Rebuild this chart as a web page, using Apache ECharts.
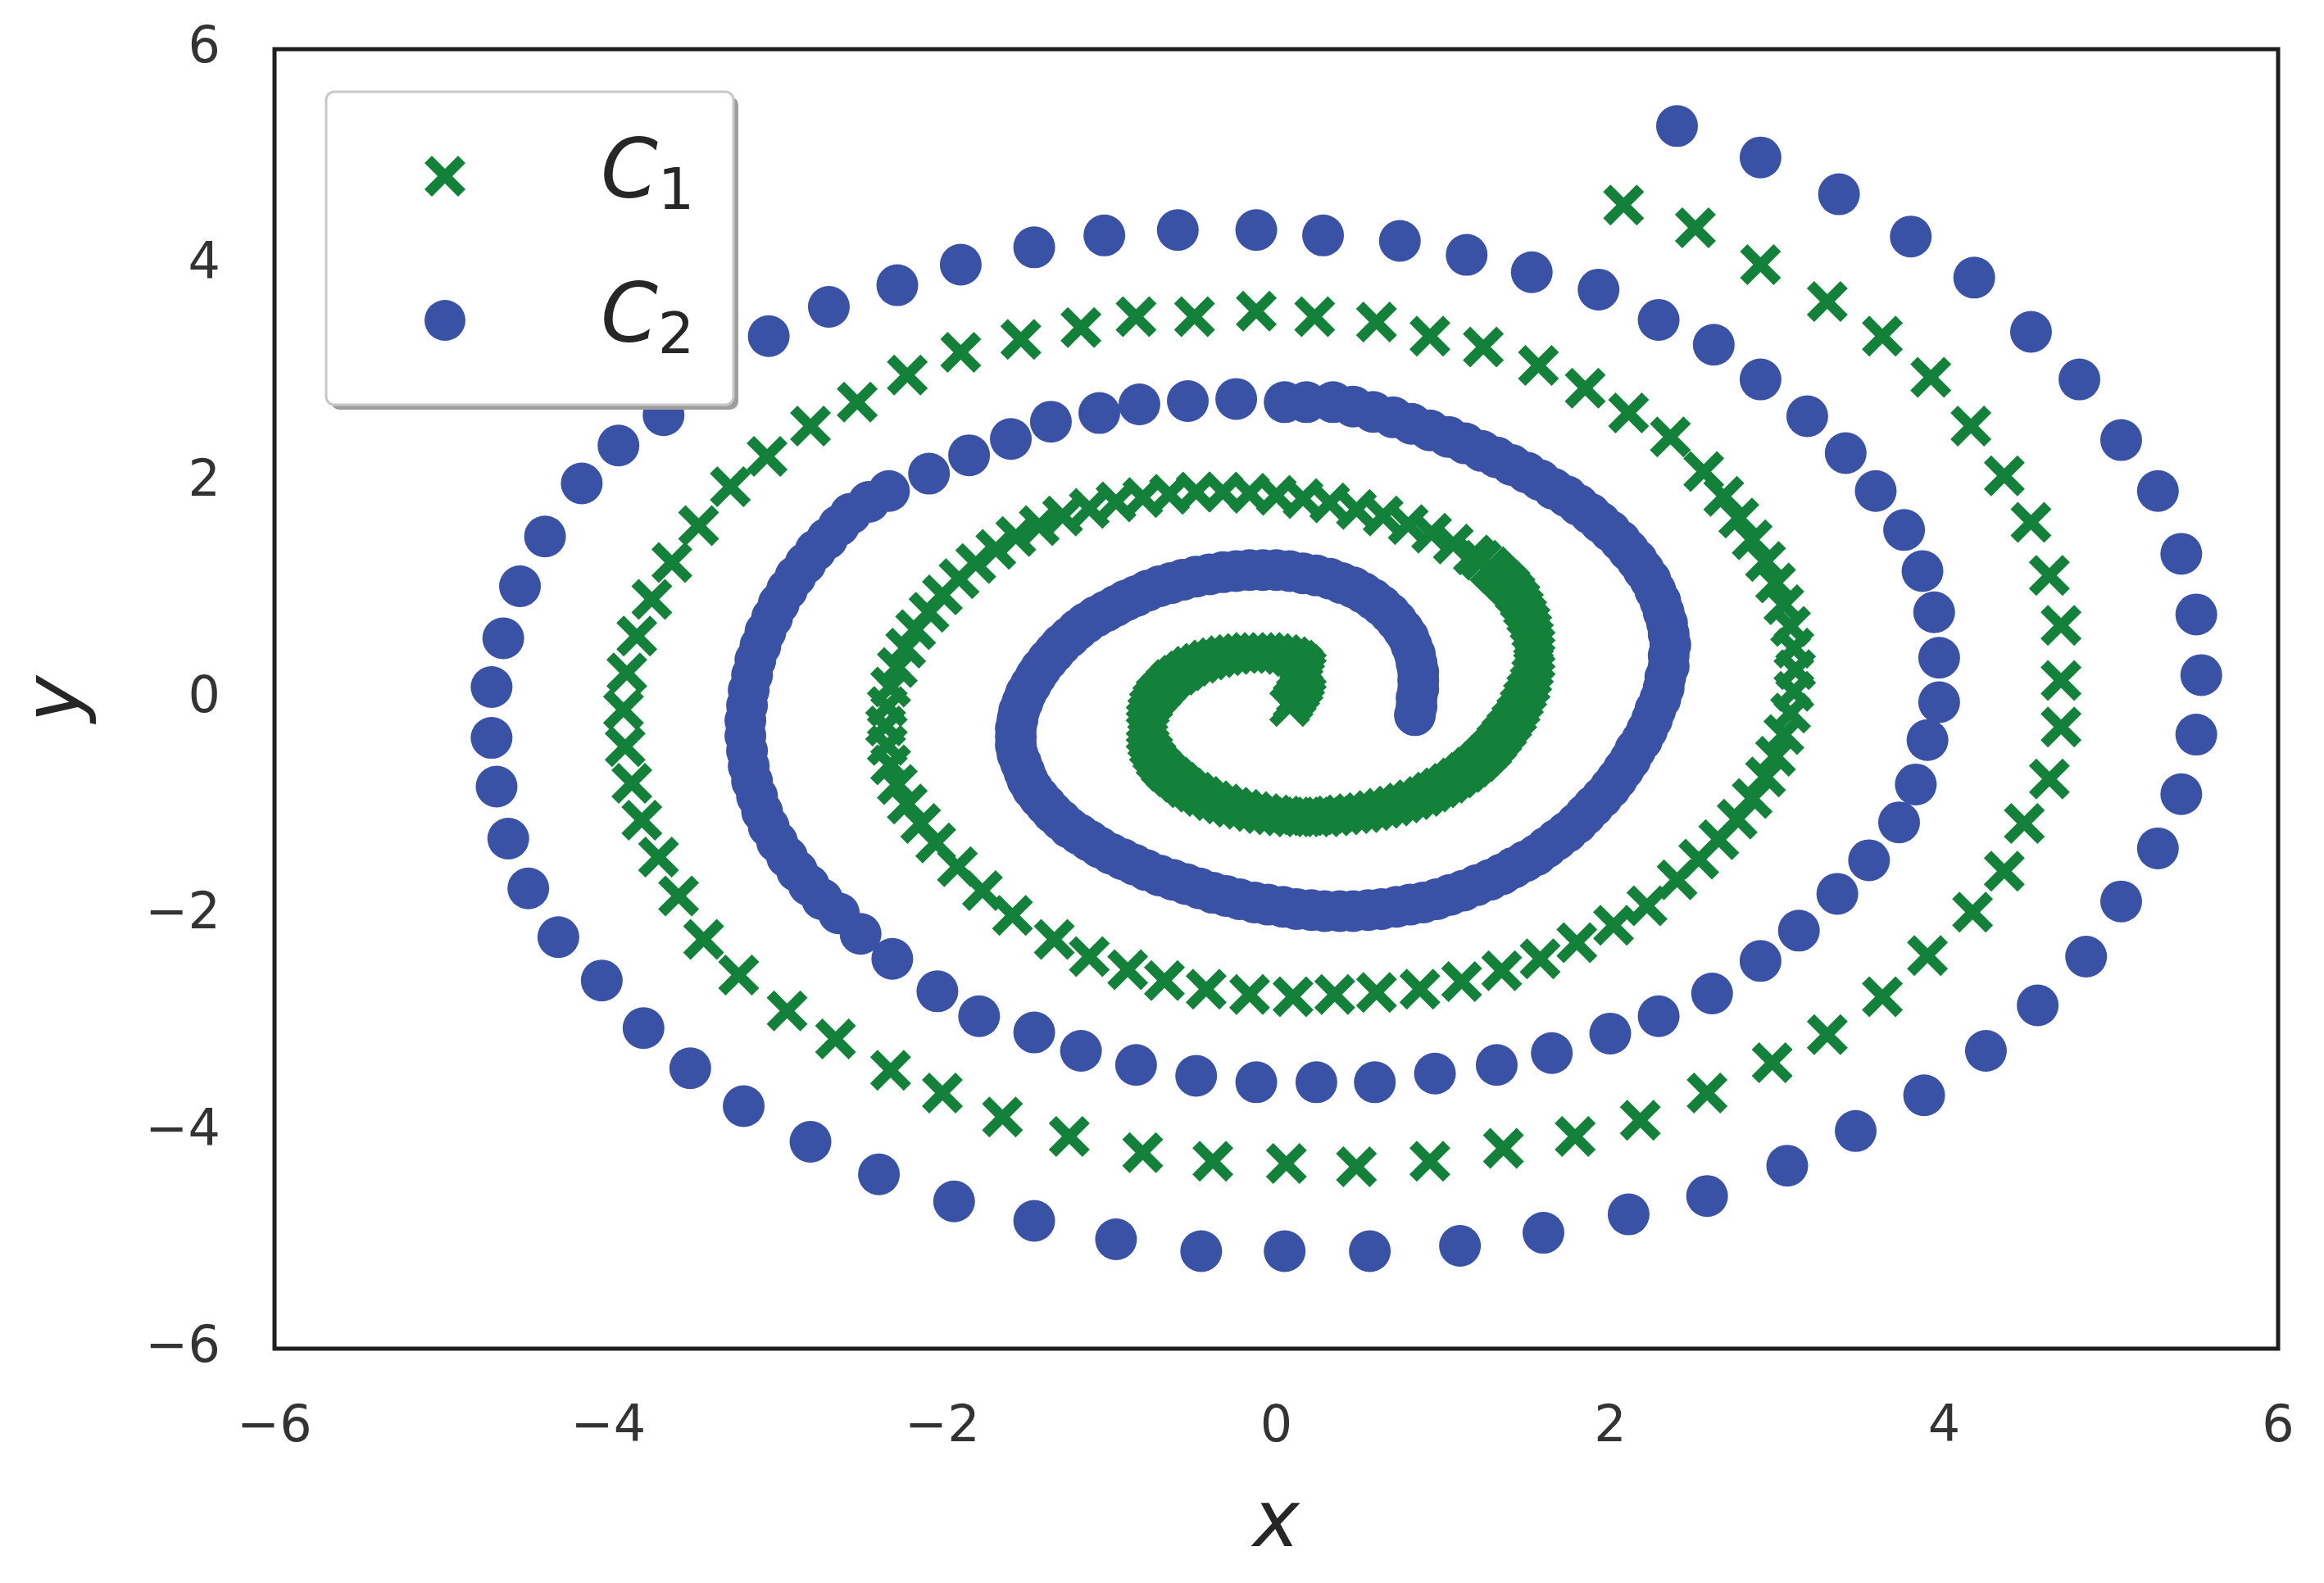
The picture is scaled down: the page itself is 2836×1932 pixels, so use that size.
<!DOCTYPE html>
<html><head><meta charset="utf-8">
<script src="https://cdn.jsdelivr.net/npm/echarts@6.0.0/dist/echarts.min.js"></script>
<style>html,body{margin:0;padding:0;background:#fff}#c{width:2836px;height:1932px}</style>
</head><body><div id="c"></div>
<script>
const seriesNames = ['C1', 'C2'];
const tickValues = [-6, -4, -2, 0, 2, 4, 6];

// C1 (green crosses), read along the spiral from its inner end outward
const c1Points = [
[0.08,-0.07],[0.10,-0.02],[0.12,0.03],[0.14,0.08],[0.16,0.13],[0.17,0.18],[0.18,0.23],[0.18,0.28],[0.16,0.32],[0.13,0.36],[0.09,0.39],[0.04,0.41],[-0.01,0.42],[-0.06,0.43],[-0.11,0.43],[-0.16,0.43],[-0.21,0.42],[-0.26,0.41],[-0.31,0.40],[-0.36,0.38],[-0.41,0.36],[-0.46,0.33],[-0.51,0.30],[-0.55,0.26],[-0.59,0.22],[-0.63,0.18],[-0.66,0.13],[-0.69,0.08],[-0.72,0.03],[-0.74,-0.02],[-0.76,-0.08],[-0.77,-0.14],[-0.78,-0.20],[-0.78,-0.26],[-0.78,-0.32],[-0.77,-0.38],[-0.76,-0.44],[-0.74,-0.50],[-0.72,-0.56],[-0.69,-0.62],[-0.66,-0.67],[-0.62,-0.72],[-0.58,-0.77],[-0.54,-0.82],[-0.49,-0.86],[-0.44,-0.90],[-0.38,-0.94],[-0.32,-0.97],[-0.26,-1.00],[-0.20,-1.02],[-0.14,-1.04],[-0.08,-1.06],[-0.02,-1.07],[0.04,-1.08],[0.10,-1.09],[0.16,-1.09],[0.22,-1.09],[0.28,-1.09],[0.34,-1.08],[0.40,-1.07],[0.46,-1.06],[0.52,-1.05],[0.58,-1.03],[0.64,-1.01],[0.70,-0.99],[0.76,-0.96],[0.82,-0.93],[0.88,-0.90],[0.93,-0.86],[0.98,-0.82],[1.03,-0.78],[1.08,-0.73],[1.13,-0.68],[1.17,-0.63],[1.21,-0.58],[1.25,-0.52],[1.29,-0.46],[1.32,-0.40],[1.35,-0.34],[1.38,-0.28],[1.41,-0.21],[1.44,-0.14],[1.46,-0.07],[1.48,0.00],[1.50,0.07],[1.52,0.14],[1.53,0.21],[1.54,0.28],[1.55,0.35],[1.55,0.42],[1.55,0.49],[1.54,0.56],[1.53,0.63],[1.52,0.70],[1.50,0.77],[1.48,0.84],[1.46,0.91],[1.43,0.98],[1.40,1.04],[1.36,1.10],[1.32,1.16],[1.28,1.22],[1.23,1.28],[1.18,1.33],[1.06,1.43],[0.93,1.53],[0.79,1.61],[0.64,1.69],[0.48,1.75],[0.32,1.81],[0.16,1.85],[0.00,1.88],[-0.16,1.90],[-0.32,1.91],[-0.48,1.91],[-0.64,1.89],[-0.80,1.86],[-0.96,1.82],[-1.12,1.76],[-1.28,1.69],[-1.42,1.60],[-1.56,1.50],[-1.68,1.38],[-1.80,1.25],[-1.90,1.11],[-2.00,0.96],[-2.08,0.80],[-2.16,0.64],[-2.22,0.47],[-2.27,0.29],[-2.31,0.11],[-2.33,-0.07],[-2.34,-0.25],[-2.33,-0.43],[-2.31,-0.61],[-2.27,-0.79],[-2.21,-0.97],[-2.13,-1.15],[-2.04,-1.33],[-1.91,-1.55],[-1.76,-1.77],[-1.58,-2.00],[-1.33,-2.22],[-1.12,-2.38],[-0.89,-2.50],[-0.67,-2.60],[-0.42,-2.68],[-0.16,-2.73],[0.10,-2.75],[0.35,-2.73],[0.60,-2.71],[0.86,-2.68],[1.11,-2.61],[1.35,-2.51],[1.58,-2.40],[1.80,-2.25],[2.02,-2.09],[2.22,-1.91],[2.40,-1.67],[2.53,-1.48],[2.65,-1.30],[2.76,-1.11],[2.85,-0.92],[2.93,-0.72],[2.99,-0.53],[3.04,-0.33],[3.08,-0.13],[3.10,0.07],[3.11,0.27],[3.10,0.47],[3.08,0.67],[3.04,0.87],[2.99,1.07],[2.93,1.27],[2.85,1.47],[2.77,1.67],[2.68,1.87],[2.56,2.10],[2.36,2.42],[2.11,2.64],[1.85,2.87],[1.57,3.08],[1.24,3.25],[0.92,3.35],[0.60,3.48],[0.23,3.53],[-0.12,3.58],[-0.49,3.53],[-0.84,3.53],[-1.17,3.43],[-1.53,3.32],[-1.89,3.20],[-2.21,2.99],[-2.51,2.74],[-2.79,2.52],[-3.05,2.24],[-3.27,1.96],[-3.46,1.60],[-3.62,1.26],[-3.74,0.92],[-3.83,0.58],[-3.89,0.24],[-3.91,-0.10],[-3.90,-0.44],[-3.86,-0.78],[-3.80,-1.12],[-3.70,-1.46],[-3.58,-1.82],[-3.43,-2.22],[-3.22,-2.55],[-2.93,-2.88],[-2.64,-3.14],[-2.31,-3.43],[-2.00,-3.64],[-1.64,-3.86],[-1.24,-4.04],[-0.80,-4.19],[-0.38,-4.27],[0.06,-4.29],[0.48,-4.32],[0.92,-4.27],[1.36,-4.15],[1.79,-4.04],[2.18,-3.89],[2.58,-3.64],[2.97,-3.36],[3.30,-3.10],[3.63,-2.75],[3.90,-2.37],[4.17,-1.97],[4.36,-1.59],[4.48,-1.15],[4.63,-0.74],[4.70,-0.26],[4.70,0.17],[4.70,0.68],[4.63,1.14],[4.52,1.63],[4.36,2.06],[4.16,2.52],[3.92,2.97],[3.63,3.35],[3.30,3.67],[2.90,4.01],[2.51,4.35],[2.08,4.56]
];

// C2 (blue dots), read along the spiral from its inner end outward
const c2Points = [
[0.83,-0.15],[0.84,-0.07],[0.84,0.01],[0.85,0.09],[0.85,0.17],[0.85,0.25],[0.84,0.33],[0.83,0.41],[0.81,0.49],[0.79,0.57],[0.76,0.64],[0.72,0.72],[0.68,0.79],[0.63,0.86],[0.58,0.92],[0.52,0.98],[0.46,1.03],[0.39,1.07],[0.32,1.11],[0.24,1.14],[0.16,1.16],[0.08,1.18],[0.00,1.19],[-0.08,1.19],[-0.16,1.19],[-0.24,1.18],[-0.32,1.17],[-0.40,1.15],[-0.48,1.13],[-0.56,1.10],[-0.63,1.07],[-0.70,1.04],[-0.77,1.00],[-0.84,0.95],[-0.90,0.91],[-0.96,0.86],[-1.02,0.81],[-1.08,0.76],[-1.14,0.70],[-1.19,0.64],[-1.24,0.57],[-1.29,0.50],[-1.33,0.43],[-1.37,0.36],[-1.41,0.28],[-1.44,0.21],[-1.47,0.13],[-1.50,0.05],[-1.52,-0.03],[-1.54,-0.11],[-1.55,-0.19],[-1.56,-0.27],[-1.56,-0.35],[-1.56,-0.43],[-1.55,-0.51],[-1.53,-0.59],[-1.51,-0.67],[-1.49,-0.75],[-1.46,-0.83],[-1.42,-0.91],[-1.38,-0.98],[-1.34,-1.05],[-1.29,-1.12],[-1.24,-1.19],[-1.18,-1.25],[-1.12,-1.31],[-1.06,-1.37],[-0.99,-1.43],[-0.92,-1.48],[-0.85,-1.53],[-0.78,-1.58],[-0.70,-1.63],[-0.62,-1.67],[-0.54,-1.71],[-0.46,-1.75],[-0.38,-1.79],[-0.30,-1.82],[-0.22,-1.85],[-0.13,-1.88],[-0.05,-1.90],[0.04,-1.92],[0.12,-1.94],[0.21,-1.95],[0.29,-1.96],[0.38,-1.96],[0.46,-1.96],[0.55,-1.95],[0.63,-1.94],[0.72,-1.92],[0.80,-1.90],[0.88,-1.88],[0.96,-1.85],[1.04,-1.81],[1.12,-1.77],[1.20,-1.72],[1.28,-1.67],[1.35,-1.62],[1.42,-1.56],[1.49,-1.50],[1.56,-1.44],[1.62,-1.37],[1.68,-1.30],[1.74,-1.23],[1.80,-1.15],[1.85,-1.07],[1.90,-0.99],[1.95,-0.91],[2.00,-0.82],[2.04,-0.74],[2.08,-0.65],[2.12,-0.56],[2.15,-0.47],[2.19,-0.38],[2.22,-0.29],[2.25,-0.19],[2.27,-0.10],[2.30,0.00],[2.32,0.10],[2.33,0.20],[2.35,0.30],[2.35,0.40],[2.36,0.50],[2.35,0.60],[2.34,0.70],[2.32,0.80],[2.30,0.90],[2.27,1.00],[2.24,1.10],[2.20,1.19],[2.16,1.28],[2.11,1.37],[2.06,1.46],[2.00,1.55],[1.94,1.63],[1.88,1.71],[1.81,1.79],[1.74,1.87],[1.66,1.94],[1.58,2.02],[1.50,2.09],[1.41,2.16],[1.32,2.23],[1.23,2.29],[1.13,2.36],[1.03,2.42],[0.92,2.48],[0.81,2.54],[0.70,2.60],[0.58,2.65],[0.46,2.70],[0.34,2.74],
[0.18,2.74],[0.05,2.74],[-0.24,2.77],[-0.53,2.75],[-0.82,2.72],[-1.06,2.64],[-1.35,2.56],[-1.59,2.40],[-1.84,2.25],[-2.08,2.08],[-2.32,1.92],[-2.44,1.82],[-2.55,1.71],[-2.62,1.60],[-2.69,1.48],[-2.76,1.37],[-2.82,1.25],[-2.88,1.13],[-2.93,1.01],[-2.98,0.88],[-3.02,0.75],[-3.06,0.62],[-3.09,0.49],[-3.12,0.36],[-3.14,0.22],[-3.16,0.08],[-3.17,-0.06],[-3.18,-0.20],[-3.18,-0.34],[-3.17,-0.48],[-3.16,-0.62],[-3.14,-0.76],[-3.11,-0.90],[-3.08,-1.04],[-3.04,-1.18],[-2.99,-1.32],[-2.93,-1.46],[-2.87,-1.59],[-2.80,-1.72],[-2.72,-1.85],[-2.62,-1.98],[-2.49,-2.17],[-2.30,-2.40],[-2.03,-2.70],[-1.78,-2.93],[-1.45,-3.08],[-1.17,-3.25],[-0.84,-3.38],[-0.48,-3.48],[-0.12,-3.54],[0.24,-3.54],[0.59,-3.54],[0.95,-3.46],[1.32,-3.38],[1.65,-3.27],[2.00,-3.09],[2.29,-2.93],[2.61,-2.72],[2.90,-2.42],[3.13,-2.14],[3.36,-1.80],[3.55,-1.49],[3.73,-1.14],[3.83,-0.79],[3.90,-0.38],[3.97,-0.03],[3.97,0.38],[3.94,0.80],[3.87,1.18],[3.76,1.56],[3.59,1.92],[3.41,2.27],[3.18,2.61],[2.90,2.95],[2.62,3.27],[2.29,3.50],[1.93,3.78],[1.53,3.94],[1.14,4.10],[0.74,4.23],[0.28,4.28],[-0.12,4.33],[-0.59,4.33],[-1.03,4.28],[-1.45,4.17],[-1.89,4.01],[-2.27,3.82],[-2.68,3.62],[-3.04,3.35],[-3.37,2.98],[-3.67,2.62],[-3.94,2.34],[-4.16,1.99],[-4.38,1.50],[-4.53,1.04],[-4.63,0.56],[-4.70,0.11],[-4.70,-0.36],[-4.67,-0.81],[-4.60,-1.29],[-4.48,-1.75],[-4.30,-2.20],[-4.04,-2.60],[-3.79,-3.04],[-3.51,-3.41],[-3.19,-3.76],[-2.79,-4.09],[-2.38,-4.39],[-1.93,-4.64],[-1.45,-4.82],[-0.96,-4.99],[-0.45,-5.10],[0.05,-5.10],[0.56,-5.10],[1.10,-5.05],[1.60,-4.93],[2.11,-4.76],[2.58,-4.59],[3.06,-4.31],[3.47,-3.99],[3.88,-3.66],[4.25,-3.25],[4.56,-2.83],[4.85,-2.38],[5.06,-1.87],[5.28,-1.38],[5.42,-0.88],[5.51,-0.33],[5.54,0.22],[5.51,0.78],[5.42,1.34],[5.28,1.92],[5.06,2.39],[4.81,2.95],[4.52,3.39],[4.18,3.89],[3.80,4.27],[3.37,4.66],[2.90,5.00],[2.40,5.29]
];

const greenColor = '#138139';
const blueColor = '#3952a6';
const crossPath = 'path://M0,18 L18,0 L50,32 L82,0 L100,18 L68,50 L100,82 L82,100 L50,68 L18,100 L0,82 L32,50 Z';
const fmtTick = v => (v < 0 ? '\u2212' + Math.abs(v) : String(v));

const legendRich = {
  c: { fontSize: 100, lineHeight: 100, fontStyle: 'italic', fontFamily: 'DejaVu Sans', color: '#262626', verticalAlign: 'top', padding: [0, 0, 0, 160] },
  s: { fontSize: 70, lineHeight: 70, fontFamily: 'DejaVu Sans', color: '#262626', verticalAlign: 'top', padding: [37, 0, 20, 0] }
};
function makeLegend(name, idx, top) {
  return {
    data: [name], left: 518, top: top, orient: 'vertical', padding: 0,
    itemWidth: 50, itemHeight: 50, selectedMode: false, z: 30,
    formatter: () => '{c|C}{s|' + (idx + 1) + '}',
    textStyle: { rich: legendRich }
  };
}

const chart = echarts.init(document.getElementById('c'), null, { renderer: 'canvas' });
chart.setOption({
  animation: false,
  backgroundColor: '#ffffff',
  grid: { left: 335, top: 60, width: 2445, height: 1586, show: true, borderColor: '#1e1e1e', borderWidth: 5, backgroundColor: 'transparent', containLabel: false },
  xAxis: {
    type: 'value', min: tickValues[0], max: tickValues[tickValues.length - 1], interval: 2,
    axisLine: { show: false }, axisTick: { show: false }, splitLine: { show: false },
    axisLabel: { formatter: fmtTick, fontSize: 62, fontFamily: 'DejaVu Sans', color: '#333333', margin: 66 },
    name: 'x', nameLocation: 'middle', nameGap: 168,
    nameTextStyle: { fontSize: 96, fontStyle: 'italic', fontFamily: 'DejaVu Sans', color: '#262626' }
  },
  yAxis: {
    type: 'value', min: tickValues[0], max: tickValues[tickValues.length - 1], interval: 2,
    axisLine: { show: false }, axisTick: { show: false }, splitLine: { show: false },
    axisLabel: { formatter: fmtTick, fontSize: 62, fontFamily: 'DejaVu Sans', color: '#333333', margin: 66 },
    name: 'y', nameLocation: 'middle', nameGap: 215,
    nameTextStyle: { fontSize: 96, fontStyle: 'italic', fontFamily: 'DejaVu Sans', color: '#262626' }
  },
  legend: [makeLegend(seriesNames[0], 0, 165), makeLegend(seriesNames[1], 1, 341)],
  graphic: [
    { type: 'rect', z: 20, shape: { x: 404, y: 118, width: 497, height: 382, r: 10 }, style: { fill: '#9e9e9e' } },
    { type: 'rect', z: 21, shape: { x: 398, y: 112, width: 497, height: 382, r: 10 }, style: { fill: '#ffffff', stroke: '#c8c8c8', lineWidth: 3 } }
  ],
  series: [
    { name: seriesNames[0], type: 'scatter', data: c1Points, symbol: crossPath, symbolSize: 50, itemStyle: { color: greenColor, opacity: 1 }, z: 2 },
    { name: seriesNames[1], type: 'scatter', data: c2Points, symbol: 'circle', symbolSize: 51, itemStyle: { color: blueColor, opacity: 1 }, z: 3 }
  ]
});
</script>
</body></html>
